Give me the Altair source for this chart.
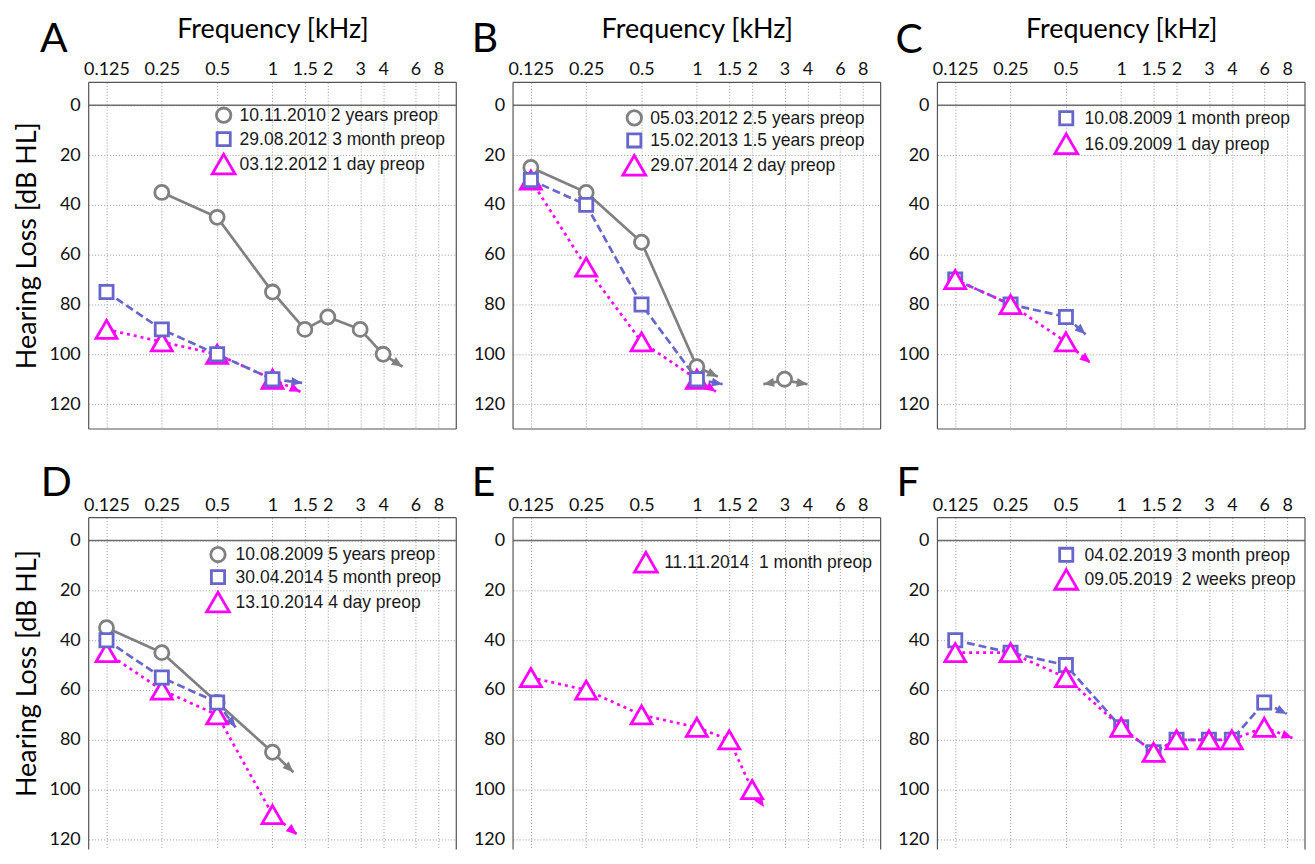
import math
import altair as alt
import pandas as pd

# ---------------- data ----------------
FREQ_TICKS = [0.125, 0.25, 0.5, 1, 1.5, 2, 3, 4, 6, 8]
HL_TICKS = [0, 20, 40, 60, 80, 100, 120]
PANELS = ["A", "B", "C", "D", "E", "F"]

# Panel A
A_GRAY_F = [0.25, 0.5, 1, 1.5, 2, 3, 4]
A_GRAY_HL = [35, 45, 75, 90, 85, 90, 100]
A_BLUE_F = [0.125, 0.25, 0.5, 1]
A_BLUE_HL = [75, 90, 100, 110]
A_MAG_F = [0.125, 0.25, 0.5, 1]
A_MAG_HL = [90, 95, 100, 110]
A_LABELS = ["10.11.2010 2 years preop", "29.08.2012 3 month preop", "03.12.2012 1 day preop"]
A_LABEL_SERIES = ["gray", "blue", "magenta"]
A_ARROWS = [["gray", 4, 100, 5.1, 105], ["blue", 1, 110, 1.45, 111.5], ["magenta", 1, 110, 1.42, 115]]

# Panel B
B_GRAY_F = [0.125, 0.25, 0.5, 1]
B_GRAY_HL = [25, 35, 55, 105]
B_GRAY2_F = [3]
B_GRAY2_HL = [110]
B_BLUE_F = [0.125, 0.25, 0.5, 1]
B_BLUE_HL = [30, 40, 80, 110]
B_MAG_F = [0.125, 0.25, 0.5, 1]
B_MAG_HL = [30, 65, 95, 110]
B_LABELS = ["05.03.2012 2.5 years preop", "15.02.2013 1.5 years preop", "29.07.2014 2 day preop"]
B_LABEL_SERIES = ["gray", "blue", "magenta"]
B_ARROWS = [["gray", 1, 105, 1.3, 109], ["blue", 1, 110, 1.38, 112], ["magenta", 1, 110, 1.27, 115],
            ["gray", 3, 110.5, 2.3, 112], ["gray", 3, 110.5, 4.0, 112]]

# Panel C
C_BLUE_F = [0.125, 0.25, 0.5]
C_BLUE_HL = [70, 80, 85]
C_MAG_F = [0.125, 0.25, 0.5]
C_MAG_HL = [70, 80, 95]
C_LABELS = ["10.08.2009 1 month preop", "16.09.2009 1 day preop"]
C_LABEL_SERIES = ["blue", "magenta"]
C_ARROWS = [["blue", 0.5, 85, 0.64, 92], ["magenta", 0.5, 95, 0.68, 103.5]]

# Panel D
D_GRAY_F = [0.125, 0.25, 0.5, 1]
D_GRAY_HL = [35, 45, 65, 85]
D_BLUE_F = [0.125, 0.25, 0.5]
D_BLUE_HL = [40, 55, 65]
D_MAG_F = [0.125, 0.25, 0.5, 1]
D_MAG_HL = [45, 60, 70, 110]
D_LABELS = ["10.08.2009 5 years preop", "30.04.2014 5 month preop", "13.10.2014 4 day preop"]
D_LABEL_SERIES = ["gray", "blue", "magenta"]
D_ARROWS = [["gray", 1, 85, 1.3, 93], ["blue", 0.5, 65, 0.63, 75], ["magenta", 1, 110, 1.36, 118]]

# Panel E
E_MAG_F = [0.125, 0.25, 0.5, 1, 1.5, 2]
E_MAG_HL = [55, 60, 70, 75, 80, 100]
E_LABELS = ["11.11.2014\u00a0 1 month preop"]
E_LABEL_SERIES = ["magenta"]
E_ARROWS = [["magenta", 2, 100, 2.32, 107]]

# Panel F
F_BLUE_F = [0.125, 0.25, 0.5, 1, 1.5, 2, 3, 4, 6]
F_BLUE_HL = [40, 45, 50, 75, 85, 80, 80, 80, 65]
F_MAG_F = [0.125, 0.25, 0.5, 1, 1.5, 2, 3, 4, 6]
F_MAG_HL = [45, 45, 55, 75, 85, 80, 80, 80, 75]
F_LABELS = ["04.02.2019 3 month preop", "09.05.2019\u00a0 2 weeks preop"]
F_LABEL_SERIES = ["blue", "magenta"]
F_ARROWS = [["blue", 6, 65, 7.95, 69.6], ["magenta", 6, 75, 8.55, 79.3]]

PANEL_SERIES = {
    "A": [("gray", "g", A_GRAY_F, A_GRAY_HL), ("blue", "b", A_BLUE_F, A_BLUE_HL), ("magenta", "m", A_MAG_F, A_MAG_HL)],
    "B": [("gray", "g", B_GRAY_F, B_GRAY_HL), ("gray", "g2", B_GRAY2_F, B_GRAY2_HL),
          ("blue", "b", B_BLUE_F, B_BLUE_HL), ("magenta", "m", B_MAG_F, B_MAG_HL)],
    "C": [("blue", "b", C_BLUE_F, C_BLUE_HL), ("magenta", "m", C_MAG_F, C_MAG_HL)],
    "D": [("gray", "g", D_GRAY_F, D_GRAY_HL), ("blue", "b", D_BLUE_F, D_BLUE_HL), ("magenta", "m", D_MAG_F, D_MAG_HL)],
    "E": [("magenta", "m", E_MAG_F, E_MAG_HL)],
    "F": [("blue", "b", F_BLUE_F, F_BLUE_HL), ("magenta", "m", F_MAG_F, F_MAG_HL)],
}
PANEL_ARROWS = {"A": A_ARROWS, "B": B_ARROWS, "C": C_ARROWS, "D": D_ARROWS, "E": E_ARROWS, "F": F_ARROWS}
PANEL_LABELS = {"A": (A_LABELS, A_LABEL_SERIES), "B": (B_LABELS, B_LABEL_SERIES), "C": (C_LABELS, C_LABEL_SERIES),
                "D": (D_LABELS, D_LABEL_SERIES), "E": (E_LABELS, E_LABEL_SERIES), "F": (F_LABELS, F_LABEL_SERIES)}

# ---------------- style / layout ----------------
W = 369
H_ROW = [348, 333]
YDOM_ROW = [[-9.2, 130], [-9.2, 124]]
XDOM = [0.1, 10]
COLORS = {"gray": "#808080", "blue": "#6666cc", "magenta": "#ff00ff"}
DASHES = {"gray": [1, 0], "blue": [8, 4], "magenta": [3, 4]}
SHAPES = {"gray": "circle", "blue": "square", "magenta": "triangle-up"}
SIZES = {"gray": 200, "blue": 175, "magenta": 440}
LEG_SIZES = {"gray": 210, "blue": 175, "magenta": 520}
ARROW_PATH = "M0,0L-1,-0.42L-1,0.42Z"
ARROW_SIZE = 470
FONT = "Lato"
LEG_FONT = "Liberation Sans"
# marker stacking order (last drawn on top)
DRAW_ORDER = {"A": ["gray", "magenta", "blue"], "B": ["gray", "magenta", "blue"],
              "C": ["gray", "blue", "magenta"], "D": ["gray", "magenta", "blue"],
              "E": ["gray", "blue", "magenta"], "F": ["gray", "blue", "magenta"]}

LEGEND_LAYOUT = {
    "A": (135.5, 151.5, [33, 57, 82]),
    "B": (121.7, 137.7, [35.7, 58.3, 83.3]),
    "C": (129.3, 147.6, [36, 61.7]),
    "D": (129.8, 147.5, [37, 59.7, 84.7]),
    "E": (133.3, 151.7, [44.7]),
    "F": (129.3, 147.6, [37.3, 62]),
}
LETTER_POS = {"A": (-49, -30), "B": (-41.5, -30), "C": (-42, -29.5),
              "D": (-48, -22), "E": (-41.5, -22), "F": (-41, -22)}


def panel(p, idx):
    row, col = divmod(idx, 3)
    h = H_ROW[row]
    ydom = YDOM_ROW[row]
    xscale = alt.Scale(type="log", domain=XDOM, nice=False)
    yscale = alt.Scale(domain=ydom, reverse=True, nice=False, zero=False)
    xaxis_kw = dict(orient="top", values=FREQ_TICKS, format="~g", labelPadding=7.5,
                    labelBaseline="alphabetic", labelOverlap=False, labelFlush=False)
    if row == 0:
        xaxis_kw.update(title="Frequency [kHz]", titleX=W / 2, titleY=-45,
                        titleBaseline="alphabetic", titleAlign="center")
    else:
        xaxis_kw.update(title=None)
    yaxis_kw = dict(values=HL_TICKS, labelPadding=8.5, labelOverlap=False, labelFlush=False)
    if col == 0:
        yaxis_kw.update(title="Hearing Loss [dB HL]", titleX=-53.5, titleY=h / 2 - 10.5,
                        titleAngle=270, titleBaseline="alphabetic", titleAlign="center")
    else:
        yaxis_kw.update(title=None)
    xaxis = alt.Axis(**xaxis_kw)
    yaxis = alt.Axis(**yaxis_kw)
    X = alt.X("f:Q", scale=xscale, axis=xaxis)
    Y = alt.Y("hl:Q", scale=yscale, axis=yaxis)
    X2 = alt.X("f2:Q", scale=xscale, axis=xaxis)
    Y2 = alt.Y("hl2:Q", scale=yscale, axis=yaxis)

    rows = []
    for ser, seg, fs, hls in PANEL_SERIES[p]:
        for f, v in zip(fs, hls):
            rows.append({"series": ser, "seg": seg, "f": f, "hl": v})
    pts = pd.DataFrame(rows)

    px_dec = W / (math.log10(XDOM[1]) - math.log10(XDOM[0]))
    px_db = h / (ydom[1] - ydom[0])
    arows = []
    for ser, f1, v1, f2, v2 in PANEL_ARROWS[p]:
        dx = (math.log10(f2) - math.log10(f1)) * px_dec
        dy = (v2 - v1) * px_db
        ang = math.degrees(math.atan2(dy, dx)) % 360
        arows.append({"series": ser, "f": f1, "hl": v1, "f2": f2, "hl2": v2, "ang": ang})
    arr = pd.DataFrame(arows)

    zero = pd.DataFrame({"f": [XDOM[0]], "hl": [0]})
    layers = [alt.Chart(zero).mark_rule(color="#6e6e6e", strokeWidth=1.5).encode(y=Y)]

    present = [s for s in DRAW_ORDER[p] if s in set(pts["series"])]
    for s in present:
        sub = pts[pts["series"] == s]
        layers.append(alt.Chart(sub).mark_line(color=COLORS[s], strokeDash=DASHES[s], strokeWidth=2.7)
                      .encode(x=X, y=Y, detail="seg:N"))
    for s in present:
        asub = arr[arr["series"] == s]
        if len(asub) == 0:
            continue
        layers.append(alt.Chart(asub).mark_rule(color=COLORS[s], strokeDash=DASHES[s], strokeWidth=2.7)
                      .encode(x=X, y=Y, x2="f2:Q", y2="hl2:Q"))
        layers.append(alt.Chart(asub).mark_point(shape=ARROW_PATH, filled=True, size=ARROW_SIZE,
                                                 color=COLORS[s], opacity=1, strokeWidth=0)
                      .encode(x=X2, y=Y2, angle=alt.Angle("ang:Q", scale=None)))
    for s in present:
        sub = pts[pts["series"] == s]
        layers.append(alt.Chart(sub).mark_point(shape=SHAPES[s], size=SIZES[s], filled=False,
                                                fill="white", stroke=COLORS[s], strokeWidth=2.8,
                                                opacity=1, fillOpacity=1)
                      .encode(x=X, y=Y))

    # legend
    labels, lser = PANEL_LABELS[p]
    sx, tx, ys = LEGEND_LAYOUT[p]
    for lab, s, yy in zip(labels, lser, ys):
        d = pd.DataFrame({"label": [lab], "series": [s]})
        layers.append(alt.Chart(d).mark_point(shape=SHAPES[s], size=LEG_SIZES[s], filled=False,
                                              fill="white", stroke=COLORS[s], strokeWidth=2.8,
                                              opacity=1, fillOpacity=1)
                      .encode(x=alt.value(sx), y=alt.value(yy)))
        layers.append(alt.Chart(d).mark_text(align="left", baseline="middle", font=LEG_FONT,
                                             fontSize=17.6, color="#1a1a1a")
                      .encode(x=alt.value(tx), y=alt.value(yy + 1), text="label:N"))

    # frame
    one = pd.DataFrame({"k": [0]})
    fr = alt.Chart(one).mark_rule(color="#555555", strokeWidth=1.2)
    layers.append(fr.encode(x=alt.value(0), x2=alt.value(W), y=alt.value(0)))
    layers.append(fr.encode(x=alt.value(0), y=alt.value(0), y2=alt.value(h)))
    layers.append(fr.encode(x=alt.value(W), y=alt.value(0), y2=alt.value(h)))
    if row == 0:
        layers.append(fr.encode(x=alt.value(0), x2=alt.value(W), y=alt.value(h)))

    # panel letter
    lx, ly = LETTER_POS[p]
    layers.append(alt.Chart(pd.DataFrame({"letter": [p]})).mark_text(
        align="left", baseline="alphabetic", font=FONT, fontSize=41, color="#000")
        .encode(x=alt.value(lx), y=alt.value(ly), text="letter:N"))

    return alt.layer(*layers).properties(width=W, height=h)


charts = [panel(p, i) for i, p in enumerate(PANELS)]

chart = alt.concat(*charts, columns=3, spacing={"row": 89, "column": 57}, bounds="flush").properties(
    padding={"left": 5, "top": 5, "right": 0, "bottom": 0},
    background="white",
).configure_view(stroke="transparent").configure_axis(
    grid=True, gridColor="#9a9a9a", gridDash=[1, 2], gridWidth=1,
    domain=False, ticks=False, tickSize=0,
    labelFont=FONT, labelFontSize=18, labelColor="#111",
    titleFont=FONT, titleFontSize=27, titleFontWeight="normal", titleColor="#000",
)

chart.save("out.html", embed_options={"renderer": "svg", "actions": False})
